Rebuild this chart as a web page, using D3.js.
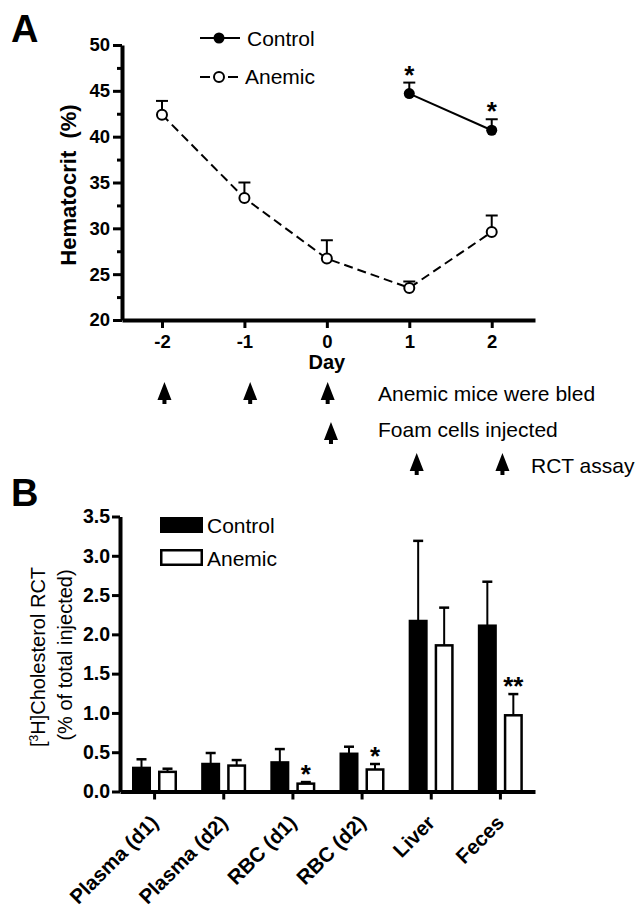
<!DOCTYPE html>
<html><head><meta charset="utf-8">
<script src="https://cdn.jsdelivr.net/npm/d3@7"></script>
<style>body{margin:0;background:#fff} text{font-family:"Liberation Sans",Arial,sans-serif;fill:#000}</style>
</head><body><svg id="c" width="644" height="914"></svg>
<script>
// ---------- Panel A data ----------
const days = [-2, -1, 0, 1, 2];
const dayTickLabels = ["-2", "-1", "0", "1", "2"];
const anemicHct = [42.4, 33.3, 26.7, 23.5, 29.6];
const anemicHctErr = [1.5, 1.7, 2.0, 0.7, 1.8];
const controlDays = [1, 2];
const controlHct = [44.7, 40.7];
const controlHctErr = [1.2, 1.2];
const controlHctSig = ["*", "*"];
const hctTicks = [20, 25, 30, 35, 40, 45, 50];
const hctMinorTicks = [22.5, 27.5, 32.5, 37.5, 42.5, 47.5];
const seriesNames = ["Control", "Anemic"];

// timeline annotations (arrow positions in day units)
const timelineLabels = ["Anemic mice were bled", "Foam cells injected", "RCT assay"];
const timelineArrows = [[-1.97, -0.93, 0.01], [0.05], [1.09, 2.13]];

// ---------- Panel B data ----------
const categories = ["Plasma (d1)", "Plasma (d2)", "RBC (d1)", "RBC (d2)", "Liver", "Feces"];
const controlRCT = [0.30, 0.35, 0.37, 0.48, 2.17, 2.11];
const controlRCTErr = [0.11, 0.14, 0.17, 0.09, 1.02, 0.56];
const anemicRCT = [0.25, 0.33, 0.10, 0.28, 1.86, 0.97];
const anemicRCTErr = [0.04, 0.07, 0.02, 0.07, 0.48, 0.27];
const anemicRCTSig = ["", "", "*", "*", "", "**"];
const rctTicks = [0, 0.5, 1.0, 1.5, 2.0, 2.5, 3.0, 3.5];

const svg = d3.select("#c");
const FONT = '"Liberation Sans",Arial,sans-serif';

function styleAxis(g, w) {
  g.select(".domain").attr("stroke", "#000").attr("stroke-width", w);
  g.selectAll(".tick line").attr("stroke", "#000").attr("stroke-width", 3);
}

// ================= PANEL A =================
const xA = d3.scaleLinear().domain([-2.485, 2.525]).range([122, 535]);
const yA = d3.scaleLinear().domain([20, 50]).range([320, 45]);
const gA = svg.append("g");

gA.append("text").attr("x", 11).attr("y", 42).attr("font-size", 38).attr("font-weight", "bold").text("A");

// minor ticks
const yMinor = gA.append("g").attr("transform", "translate(122,0)")
  .call(d3.axisLeft(yA).tickValues(hctMinorTicks).tickSize(5).tickFormat(""));
yMinor.select(".domain").remove();
yMinor.selectAll(".tick line").attr("stroke", "#000").attr("stroke-width", 3);

const yAxA = gA.append("g").attr("transform", "translate(122,0)")
  .call(d3.axisLeft(yA).tickValues(hctTicks).tickSize(9).tickSizeOuter(0).tickPadding(3).tickFormat(d3.format("d")));
styleAxis(yAxA, 4);
yAxA.selectAll(".tick text").attr("font-size", 18.5).attr("font-weight", "bold").attr("font-family", FONT).attr("fill", "#000");

const xAxA = gA.append("g").attr("transform", "translate(0,320)")
  .call(d3.axisBottom(xA).tickValues(days).tickSize(8).tickSizeOuter(0).tickPadding(7).tickFormat((d, i) => dayTickLabels[i]));
styleAxis(xAxA, 4);
xAxA.selectAll(".tick text").attr("font-size", 18.5).attr("font-weight", "bold").attr("font-family", FONT).attr("fill", "#000");

gA.append("text").attr("x", xA(0)).attr("y", 369).attr("text-anchor", "middle")
  .attr("font-size", 20).attr("font-weight", "bold").text("Day");

gA.append("text").attr("transform", "translate(76,185) rotate(-90)").attr("text-anchor", "middle")
  .attr("font-size", 22).attr("font-weight", "bold").text("Hematocrit\u00a0 (%)");

const anemicPts = days.map((d, i) => ({ x: d, y: anemicHct[i], e: anemicHctErr[i] }));
const controlPts = controlDays.map((d, i) => ({ x: d, y: controlHct[i], e: controlHctErr[i], s: controlHctSig[i] }));
const line = d3.line().x(d => xA(d.x)).y(d => yA(d.y));

gA.append("path").datum(anemicPts).attr("d", line).attr("fill", "none").attr("stroke", "#000")
  .attr("stroke-width", 2).attr("stroke-dasharray", "9,5");
gA.append("path").datum(controlPts).attr("d", line).attr("fill", "none").attr("stroke", "#000").attr("stroke-width", 2);

function errA(pts) {
  const g = gA.append("g").attr("stroke", "#000").attr("stroke-width", 2);
  pts.forEach(p => {
    g.append("line").attr("x1", xA(p.x)).attr("x2", xA(p.x)).attr("y1", yA(p.y)).attr("y2", yA(p.y + p.e));
    g.append("line").attr("x1", xA(p.x) - 6).attr("x2", xA(p.x) + 6).attr("y1", yA(p.y + p.e)).attr("y2", yA(p.y + p.e));
  });
}
errA(anemicPts); errA(controlPts);

gA.selectAll("circle.an").data(anemicPts).join("circle").attr("class", "an")
  .attr("cx", d => xA(d.x)).attr("cy", d => yA(d.y)).attr("r", 5)
  .attr("fill", "#fff").attr("stroke", "#000").attr("stroke-width", 2);
gA.selectAll("circle.ct").data(controlPts).join("circle").attr("class", "ct")
  .attr("cx", d => xA(d.x)).attr("cy", d => yA(d.y)).attr("r", 5.5).attr("fill", "#000");

gA.selectAll("text.sig").data(controlPts).join("text").attr("class", "sig")
  .attr("x", d => xA(d.x)).attr("y", d => yA(d.y + d.e) + 1).attr("text-anchor", "middle")
  .attr("font-size", 26).attr("font-weight", "bold").text(d => d.s);

// legend A
gA.append("line").attr("x1", 200).attr("x2", 240).attr("y1", 38).attr("y2", 38).attr("stroke", "#000").attr("stroke-width", 2);
gA.append("circle").attr("cx", 219).attr("cy", 38).attr("r", 5.5).attr("fill", "#000");
gA.append("text").attr("x", 247).attr("y", 46).attr("font-size", 21).text(seriesNames[0]);
gA.append("line").attr("x1", 200).attr("x2", 240).attr("y1", 77).attr("y2", 77).attr("stroke", "#000")
  .attr("stroke-width", 2).attr("stroke-dasharray", "10,4");
gA.append("circle").attr("cx", 219).attr("cy", 77).attr("r", 5).attr("fill", "#fff").attr("stroke", "#000").attr("stroke-width", 2);
gA.append("text").attr("x", 245).attr("y", 84).attr("font-size", 21).text(seriesNames[1]);

// timeline
const rowTipY = [382, 422, 453];
const rowTextX = [378, 378, 531];
const rowTextY = [401, 437, 473];
const arrowPath = "M0,0 L7,18 L2,18 L2,22 L-2,22 L-2,18 L-7,18 Z";
timelineLabels.forEach((lab, r) => {
  timelineArrows[r].forEach(d => {
    gA.append("path").attr("d", arrowPath).attr("transform", `translate(${xA(d)},${rowTipY[r]})`).attr("fill", "#000");
  });
  gA.append("text").attr("x", rowTextX[r]).attr("y", rowTextY[r]).attr("font-size", 21).text(lab);
});

// ================= PANEL B =================
const gB = svg.append("g");
gB.append("text").attr("x", 11).attr("y", 506).attr("font-size", 38).attr("font-weight", "bold").text("B");

const xB = d3.scaleBand().domain(categories).range([120, 535]).padding(0);
const sub = d3.scaleBand().domain(seriesNames).range([12, 57]).paddingInner(7 / 26).paddingOuter(0);
const yB = d3.scaleLinear().domain([0, 3.5]).range([791.5, 516.5]);

const yAxB = gB.append("g").attr("transform", "translate(120,0)")
  .call(d3.axisLeft(yB).tickValues(rctTicks).tickSize(8).tickSizeOuter(0).tickPadding(2).tickFormat(d3.format(".1f")));
styleAxis(yAxB, 4);
yAxB.selectAll(".tick text").attr("font-size", 19.5).attr("font-weight", "bold").attr("font-family", FONT).attr("fill", "#000");

const yl = gB.append("text").attr("transform", "translate(45,657) rotate(-90)").attr("text-anchor", "middle").attr("font-size", 20);
yl.append("tspan").text("[");
yl.append("tspan").attr("font-size", 12).attr("baseline-shift", "super").text("3");
yl.append("tspan").text("H]Cholesterol RCT");
gB.append("text").attr("transform", "translate(72,655) rotate(-90)").attr("text-anchor", "middle").attr("font-size", 20)
  .text("(% of total injected)");

const series = [
  { name: seriesNames[0], v: controlRCT, e: controlRCTErr, fill: "#000" },
  { name: seriesNames[1], v: anemicRCT, e: anemicRCTErr, fill: "#fff" }
];
series.forEach(s => {
  const g = gB.append("g");
  categories.forEach((c, i) => {
    const x0 = xB(c) + sub(s.name);
    const bw = sub.bandwidth();
    const cx = x0 + bw / 2;
    g.append("line").attr("x1", cx).attr("x2", cx).attr("y1", yB(s.v[i])).attr("y2", yB(s.v[i] + s.e[i]))
      .attr("stroke", "#000").attr("stroke-width", 2);
    g.append("line").attr("x1", cx - 5).attr("x2", cx + 5).attr("y1", yB(s.v[i] + s.e[i])).attr("y2", yB(s.v[i] + s.e[i]))
      .attr("stroke", "#000").attr("stroke-width", 2.5);
    g.append("rect").attr("x", x0 + 1.25).attr("width", bw - 2.5)
      .attr("y", yB(s.v[i])).attr("height", yB(0) - yB(s.v[i]))
      .attr("fill", s.fill).attr("stroke", "#000").attr("stroke-width", 2.5);
  });
});

categories.forEach((c, i) => {
  if (!anemicRCTSig[i]) return;
  const cx = xB(c) + sub(seriesNames[1]) + sub.bandwidth() / 2;
  gB.append("text").attr("x", cx).attr("y", yB(anemicRCT[i] + anemicRCTErr[i]) + 1).attr("text-anchor", "middle")
    .attr("font-size", 26).attr("font-weight", "bold").text(anemicRCTSig[i]);
});

const xAxB = gB.append("g").attr("transform", "translate(0,791.5)")
  .call(d3.axisBottom(xB).tickSize(8).tickSizeOuter(0).tickFormat(""));
styleAxis(xAxB, 4);
categories.forEach(c => {
  gB.append("text").attr("transform", `translate(${xB(c) + xB.bandwidth() / 2 + 5},${824}) rotate(-45)`)
    .attr("text-anchor", "end").attr("font-size", 20.5).attr("font-weight", "bold").text(c);
});

// legend B
gB.append("rect").attr("x", 160).attr("y", 517).attr("width", 43).attr("height", 16).attr("fill", "#000");
gB.append("rect").attr("x", 161.25).attr("y", 550.25).attr("width", 40.5).attr("height", 14.5)
  .attr("fill", "#fff").attr("stroke", "#000").attr("stroke-width", 2.5);
gB.append("text").attr("x", 207).attr("y", 533).attr("font-size", 21).text(seriesNames[0]);
gB.append("text").attr("x", 207).attr("y", 566).attr("font-size", 21).text(seriesNames[1]);
</script></body></html>
